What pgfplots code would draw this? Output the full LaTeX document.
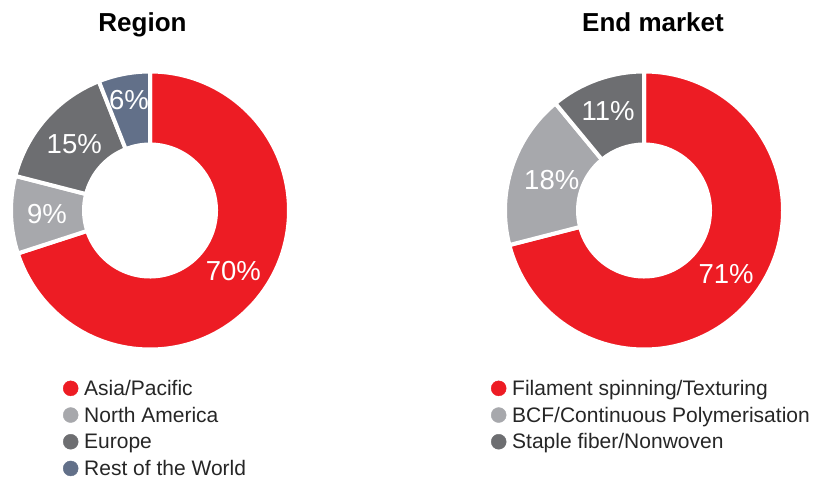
\documentclass[border=0pt]{standalone}
\usepackage{pgfplots}
\pgfplotsset{compat=1.18}
\usepackage{pgfplotstable}
\usetikzlibrary{calc}
\usepackage{fontspec}
\setmainfont{Liberation Sans}
\definecolor{cRed}{HTML}{ED1C24}
\definecolor{cLight}{HTML}{A7A8AC}
\definecolor{cDark}{HTML}{6D6E71}
\definecolor{cBlue}{HTML}{627089}

\pgfplotstableread{
name value color lr
Asia/Pacific 70 cRed 103
{North America} 9 cLight 103
Europe 15 cDark 101
{Rest of the World} 6 cBlue 112
}\regiondata

\pgfplotstableread{
name value color lr
{Filament spinning/Texturing} 71 cRed 104
{BCF/Continuous Polymerisation} 18 cLight 97
{Staple fiber/Nonwoven} 11 cDark 106
}\marketdata

\tikzset{lab/.style={text=white, font=\fontsize{27.5}{30}\selectfont, inner sep=0pt}}

\newcommand\donut[2]{% #1 table, #2 last row index
  \gdef\astart{90}%
  \pgfplotsforeachungrouped \i in {0,...,#2}{%
    \pgfplotstablegetelem{\i}{value}\of{#1}\let\v\pgfplotsretval
    \pgfplotstablegetelem{\i}{color}\of{#1}\let\c\pgfplotsretval
    \pgfplotstablegetelem{\i}{lr}\of{#1}\let\lr\pgfplotsretval
    \pgfplotstablegetelem{\i}{name}\of{#1}\let\nm\pgfplotsretval
    \pgfmathsetmacro\aend{\astart-3.6*\v}%
    \pgfmathsetmacro\amid{(\astart+\aend)/2}%
    \edef\temp{%
      \noexpand\addlegendimage{\c}\noexpand\addlegendentry{\nm}%
      \noexpand\fill[\c,draw=white,line width=4pt] ($(axis cs:0,0)+(\astart:139pt)$) arc[start angle=\astart,end angle=\aend,radius=139pt] -- ($(axis cs:0,0)+(\aend:66pt)$) arc[start angle=\aend,end angle=\astart,radius=66pt] -- cycle;%
      \noexpand\node[lab] at ($(axis cs:0,0)+(\amid:\lr pt)$) {\v\noexpand\%};%
    }\temp
    \global\let\astart\aend
  }%
}

\pgfplotsset{
  donutaxis/.style={
    anchor=center, scale only axis, width=274pt, height=274pt,
    xmin=-1, xmax=1, ymin=-1, ymax=1, hide axis, clip=false,
    title style={font=\bfseries\fontsize{26}{28}\selectfont, anchor=base, inner sep=0pt},
    legend cell align=left,
    legend style={draw=none, fill=none, inner sep=0pt, outer sep=0pt,
      row sep=8pt, anchor=north west,
      font=\fontsize{21}{24}\selectfont,
      nodes={inner sep=0pt, text height=14pt, text depth=4pt, text=black!85}},
    legend image code/.code={\fill (7.5pt,2pt) circle (7.5pt); \path[draw=none,fill=none] (0,0) rectangle (21pt,1pt);},
  }
}

\begin{document}
\begin{tikzpicture}
\useasboundingbox (0,0) rectangle (814pt,479pt);
\begin{axis}[donutaxis, at={(150pt,268.5pt)},
  title={Region}, title style={at={(axis description cs:0.4726,1.133)}},
  legend style={at={(axis description cs:0.1825,-0.121)}}]
\donut{\regiondata}{3}
\end{axis}
\begin{axis}[donutaxis, at={(644pt,268.5pt)},
  title={End market}, title style={at={(axis description cs:0.533,1.133)}},
  legend style={at={(axis description cs:-0.0584,-0.121)}}]
\donut{\marketdata}{2}
\end{axis}
\end{tikzpicture}
\end{document}
